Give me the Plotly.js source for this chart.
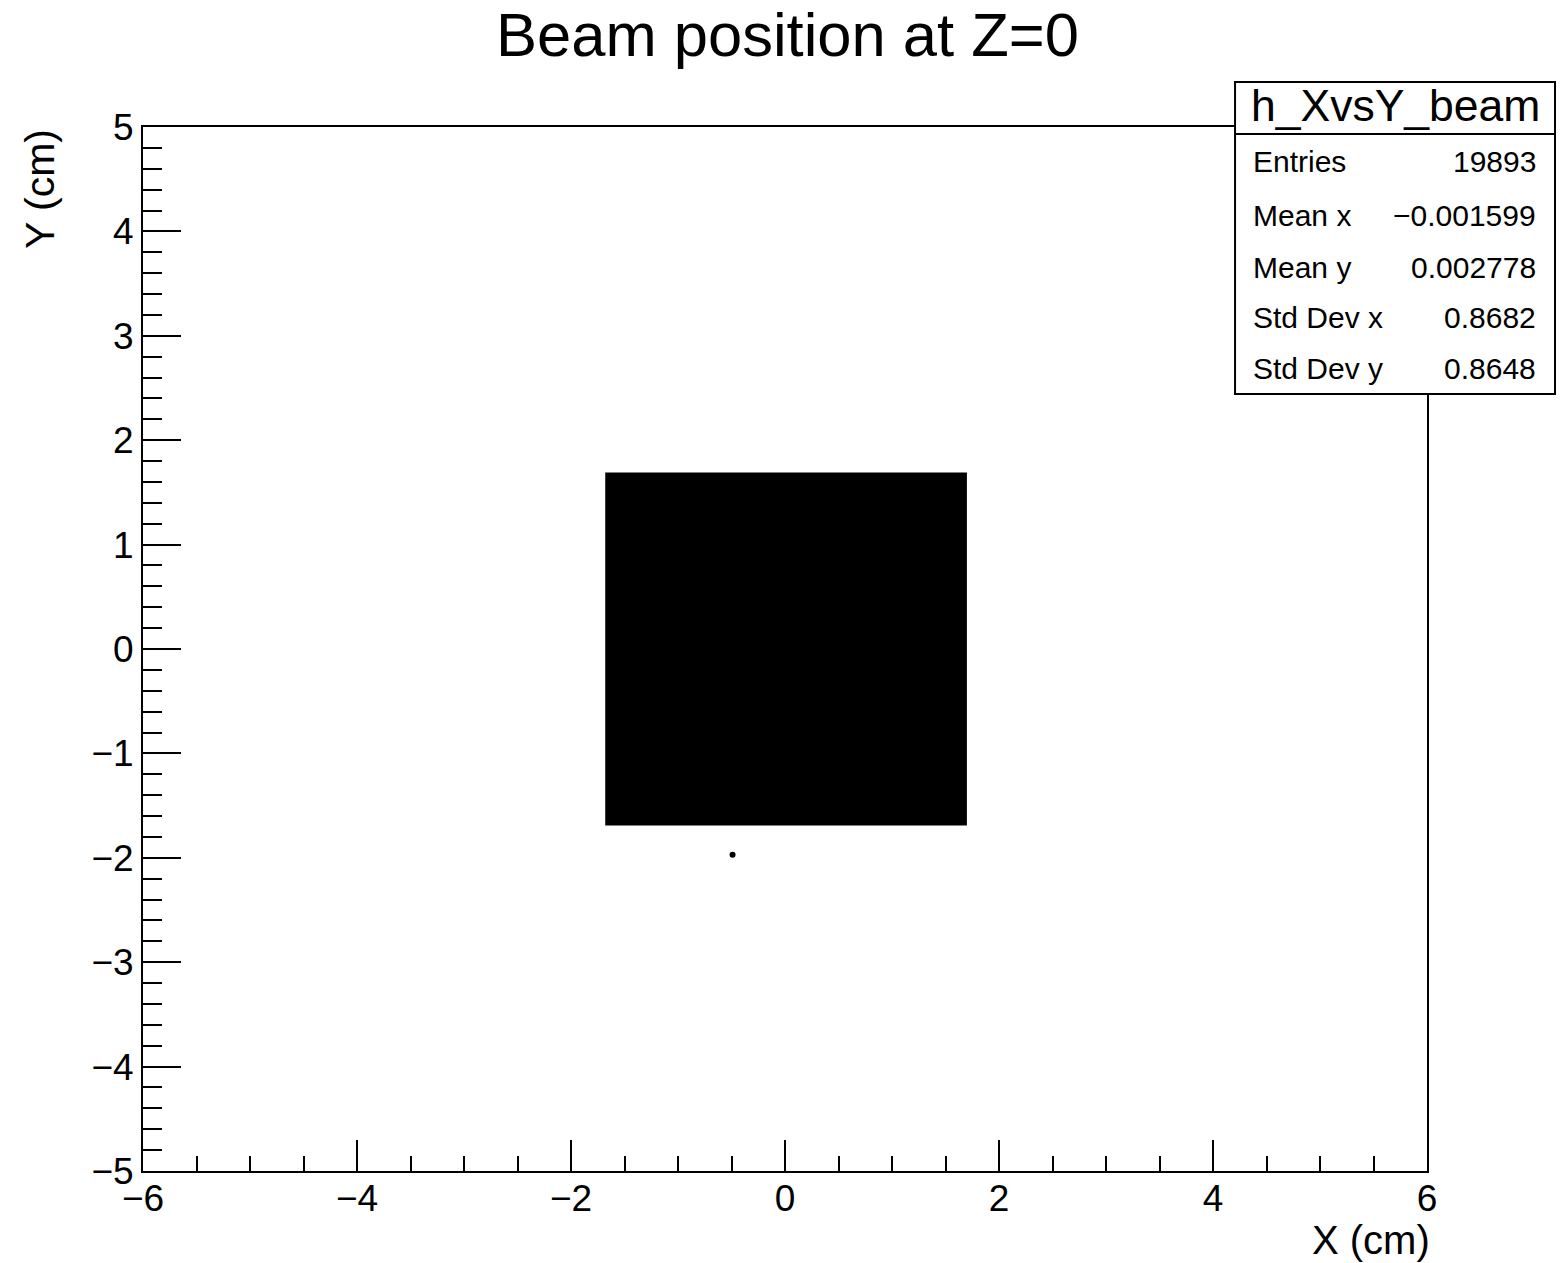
<!DOCTYPE html>
<html>
<head>
<meta charset="utf-8">
<script src="https://cdn.plot.ly/plotly-3.0.1.min.js"></script>
<style>
  html, body { margin: 0; padding: 0; background: #fff; }
  #plot { width: 1561px; height: 1263px; }
</style>
</head>
<body>
<div id="plot"></div>
<script>
// Footprint of the beam spot at Z=0 (cm): the filled region covered by hits
const beamX = [-1.68, 1.70, 1.70, -1.68, -1.68];
const beamY = [-1.69, -1.69, 1.69, 1.69, -1.69];

// Single isolated hit below the spot (cm)
const strayX = [-0.49];
const strayY = [-1.97];

// Statistics box contents
const statsName = "h_XvsY_beam";
const statLabels = ["Entries", "Mean x", "Mean y", "Std Dev x", "Std Dev y"];
const statValues = ["19893", "\u22120.001599", "0.002778", "0.8682", "0.8648"];

// Axis ticks
const xTickVals = [-6, -4, -2, 0, 2, 4, 6];
const yTickVals = [-5, -4, -3, -2, -1, 0, 1, 2, 3, 4, 5];

const FONT = '"Liberation Sans", Arial, Helvetica, sans-serif';

const traces = [
  {
    type: 'scatter',
    mode: 'lines',
    x: beamX,
    y: beamY,
    fill: 'toself',
    fillcolor: '#000',
    line: { color: '#000', width: 0 },
    hoverinfo: 'skip',
    showlegend: false
  },
  {
    type: 'scatter',
    mode: 'markers',
    x: strayX,
    y: strayY,
    marker: { color: '#000', size: 6 },
    showlegend: false
  }
];

// Stats box geometry in paper coordinates
const boxL = 0.8505, boxR = 1.0997, boxT = 1.0431, boxB = 0.7443, boxSep = 0.9933;
const rowY = [0.9670, 0.9148, 0.8659, 0.8171, 0.7682];

const shapes = [
  { type: 'rect', xref: 'paper', yref: 'paper', x0: boxL, x1: boxR, y0: boxB, y1: boxT,
    line: { color: '#000', width: 2 }, fillcolor: '#fff', layer: 'above' },
  { type: 'line', xref: 'paper', yref: 'paper', x0: boxL, x1: boxR, y0: boxSep, y1: boxSep,
    line: { color: '#000', width: 2 }, layer: 'above' }
];

const annotations = [
  { text: 'Beam position at Z=0', xref: 'paper', yref: 'paper', x: 0.5016, y: 1.089,
    xanchor: 'center', yanchor: 'middle', showarrow: false,
    font: { family: FONT, size: 61.5, color: '#000' } },
  { text: 'X (cm)', xref: 'paper', yref: 'paper', x: 1.003, y: -0.066,
    xanchor: 'right', yanchor: 'middle', showarrow: false, borderpad: 0,
    font: { family: FONT, size: 40, color: '#000' } },
  { text: 'Y (cm)', xref: 'paper', yref: 'paper', x: -0.0802, y: 1.0,
    xanchor: 'center', yanchor: 'top', textangle: -90, showarrow: false,
    font: { family: FONT, size: 41, color: '#000' } },
  { text: statsName, xref: 'paper', yref: 'paper', x: (boxL + boxR) / 2, y: (boxT + boxSep) / 2 + 0.002,
    xanchor: 'center', yanchor: 'middle', showarrow: false,
    font: { family: FONT, size: 44.5, color: '#000' } }
];

statLabels.forEach((lab, i) => {
  annotations.push({ text: lab, xref: 'paper', yref: 'paper', x: 0.8629, y: rowY[i],
    xanchor: 'left', yanchor: 'middle', showarrow: false,
    font: { family: FONT, size: 30, color: '#000' } });
  annotations.push({ text: statValues[i], xref: 'paper', yref: 'paper', x: 1.0864, y: rowY[i],
    xanchor: 'right', yanchor: 'middle', showarrow: false,
    font: { family: FONT, size: 30, color: '#000' } });
});

const layout = {
  width: 1561,
  height: 1263,
  margin: { l: 143, r: 134, t: 127, b: 92, pad: 0 },
  paper_bgcolor: '#fff',
  plot_bgcolor: '#fff',
  showlegend: false,
  font: { family: FONT, color: '#000' },
  xaxis: {
    range: [-6, 6],
    tickmode: 'array',
    tickvals: xTickVals,
    ticks: 'inside',
    ticklen: 31,
    tickwidth: 2,
    tickcolor: '#000',
    ticklabelstandoff: -6,
    minor: { dtick: 0.5, tick0: 0, ticks: 'inside', ticklen: 15, tickwidth: 2, tickcolor: '#000', showgrid: false },
    showline: true,
    linewidth: 2,
    linecolor: '#000',
    mirror: true,
    showgrid: false,
    zeroline: false,
    tickfont: { family: FONT, size: 37, color: '#000' }
  },
  yaxis: {
    range: [-5, 5],
    tickmode: 'array',
    tickvals: yTickVals,
    ticks: 'inside',
    ticklen: 38,
    tickwidth: 2,
    tickcolor: '#000',
    minor: { dtick: 0.2, tick0: 0, ticks: 'inside', ticklen: 19, tickwidth: 2, tickcolor: '#000', showgrid: false },
    showline: true,
    linewidth: 2,
    linecolor: '#000',
    mirror: true,
    showgrid: false,
    zeroline: false,
    tickfont: { family: FONT, size: 37, color: '#000' }
  },
  shapes: shapes,
  annotations: annotations
};

Plotly.newPlot('plot', traces, layout, { staticPlot: true, displayModeBar: false });
</script>
</body>
</html>
